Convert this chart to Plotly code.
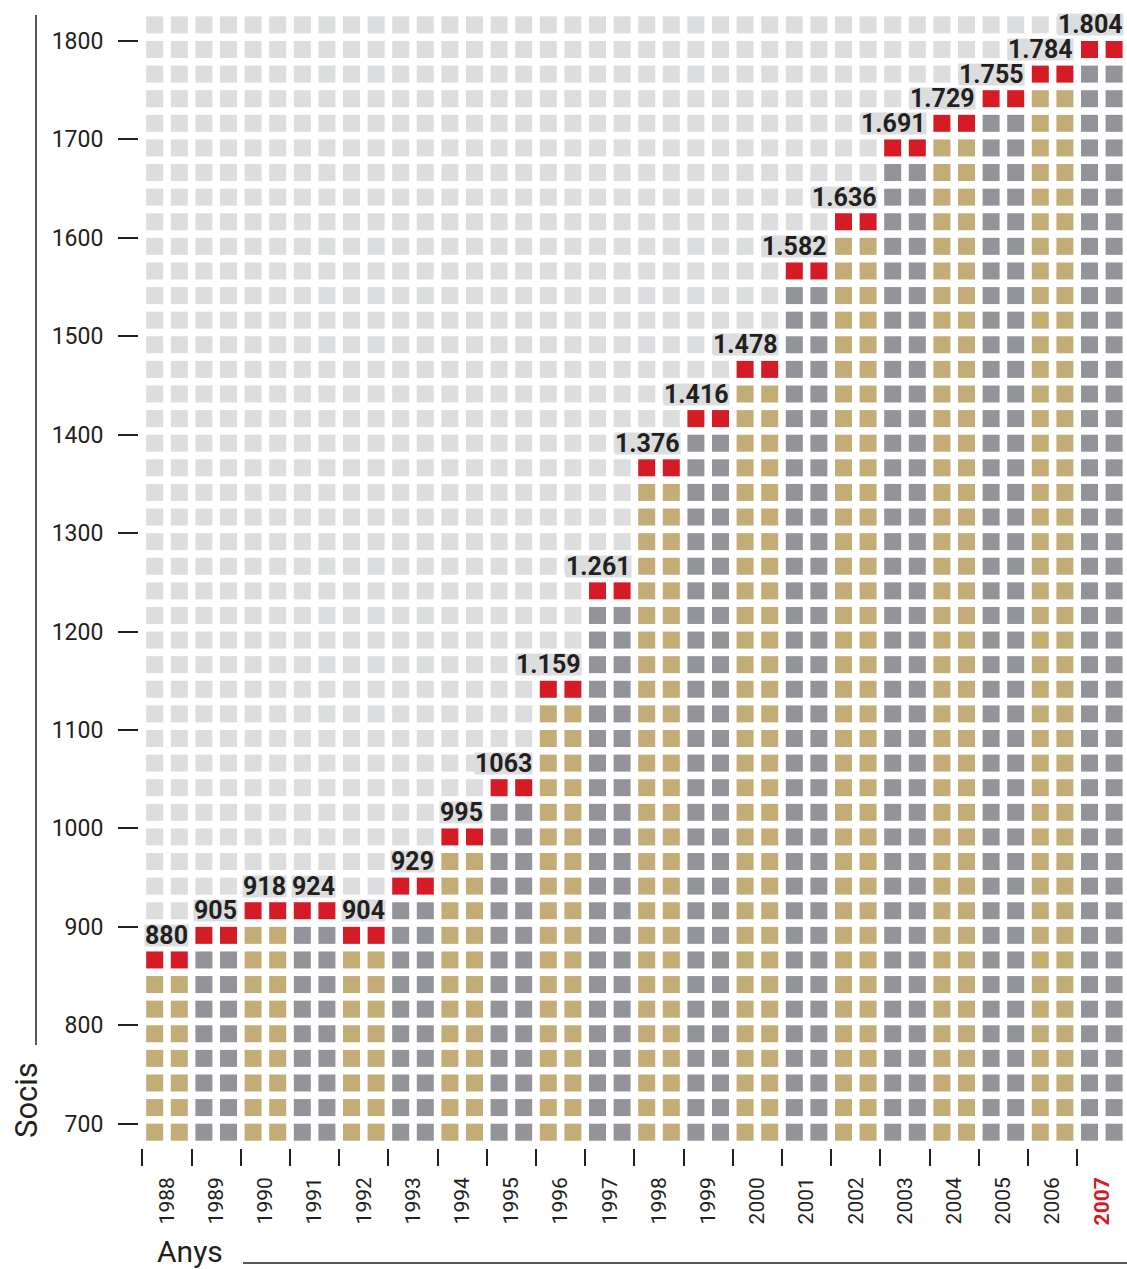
import plotly.graph_objects as go

# ---------------- data ----------------
years = list(range(1988, 2008))
socis = [880, 905, 918, 924, 904, 929, 995, 1063, 1159, 1261,
         1376, 1416, 1478, 1582, 1636, 1691, 1729, 1755, 1784, 1804]
value_labels = ["880", "905", "918", "924", "904", "929", "995", "1063", "1.159", "1.261",
                "1.376", "1.416", "1.478", "1.582", "1.636", "1.691", "1.729", "1.755", "1.784", "1.804"]
# number of squares drawn per year (each square ~25 socis)
squares = [8, 9, 10, 10, 9, 11, 13, 15, 19, 23, 28, 30, 32, 36, 38, 41, 42, 43, 44, 45]
y_ticks = [700, 800, 900, 1000, 1100, 1200, 1300, 1400, 1500, 1600, 1700, 1800]
year_labels = [str(y) for y in years[:-1]] + ['<span style="color:#d51b26"><b>2007</b></span>']

# ---------------- style / layout constants ----------------
W, H = 1127, 1269
L, R, T, B = 139, 0, 10, 121
PW, PH = W - L - R, H - T - B
YEAR_PX = 49.2            # px per year
X0_PX = 167               # px centre of first year
PPU = 1082.7 / 1100       # px per socis unit
Y700_PX = 1123.7
STEP = 25                 # socis per square row
N_ROWS = 46
SQ = 17
COL_OFF = 0.25
HALF_SQ_Y = SQ / 2 / PPU
HALF_SQ_X = SQ / 2 / YEAR_PX

xmin = years[0] + (L - X0_PX) / YEAR_PX
xmax = years[0] + (W - R - X0_PX) / YEAR_PX
ymax = 700 + (Y700_PX - T) / PPU
ymin = 700 - (H - B - Y700_PX) / PPU

TAN, GRAY, RED, LIGHT = "#c4ac77", "#939499", "#d51b26", "#dcdddf"
INK = "#231f20"
FONT = "Roboto, Liberation Sans, sans-serif"


def row_y(k):
    return 700 + STEP * k - HALF_SQ_Y


groups = {TAN: ([], []), GRAY: ([], []), RED: ([], []), LIGHT: ([], [])}
for i, (yr, n) in enumerate(zip(years, squares)):
    for off in (-COL_OFF, COL_OFF):
        for k in range(N_ROWS):
            if k < n - 1:
                c = TAN if i % 2 == 0 else GRAY
            elif k == n - 1:
                c = RED
            else:
                c = LIGHT
            groups[c][0].append(yr + off)
            groups[c][1].append(row_y(k))

fig = go.Figure()
for c in (LIGHT, TAN, GRAY, RED):
    xs, ys = groups[c]
    fig.add_trace(go.Scatter(x=xs, y=ys, mode="markers",
                             marker=dict(symbol="square", size=SQ, color=c, line=dict(width=0)),
                             hoverinfo="skip", showlegend=False))

annotations = []
for yr, n, lab in zip(years, squares, value_labels):
    annotations.append(dict(x=yr + COL_OFF + HALF_SQ_X + 0.02, y=row_y(n), xref="x", yref="y",
                            text="<b>" + lab + "</b>", showarrow=False, xanchor="right", yanchor="middle",
                            font=dict(family=FONT, size=25, color=INK),
                            bgcolor=LIGHT, borderpad=0, height=21, valign="middle"))


def px_x(p):
    return (p - L) / PW


def px_y(p):
    return (H - B - p) / PH


annotations.append(dict(x=px_x(26), y=px_y(1100), xref="paper", yref="paper", text="Socis",
                        textangle=-90, showarrow=False, xanchor="center", yanchor="middle",
                        font=dict(family=FONT, size=31, color=INK)))
annotations.append(dict(x=px_x(190), y=px_y(1251), xref="paper", yref="paper", text="Anys",
                        showarrow=False, xanchor="center", yanchor="middle",
                        font=dict(family=FONT, size=30, color=INK)))

shapes = [
    dict(type="line", xref="paper", yref="paper", x0=px_x(36), x1=px_x(36), y0=px_y(15), y1=px_y(1045),
         line=dict(color=INK, width=1.5)),
    dict(type="line", xref="paper", yref="paper", x0=px_x(243), x1=px_x(1127), y0=px_y(1263), y1=px_y(1263),
         line=dict(color=INK, width=1.5)),
]

fig.update_layout(
    width=W, height=H, margin=dict(l=L, r=R, t=T, b=B, autoexpand=False),
    paper_bgcolor="white", plot_bgcolor="white", showlegend=False,
    annotations=annotations, shapes=shapes,
    xaxis=dict(range=[xmin, xmax], tickmode="array", tickvals=years, ticktext=year_labels,
               ticks="", tickangle=-90, ticklabelstandoff=24, automargin=False,
               tickfont=dict(family=FONT, size=21, color=INK),
               showgrid=False, zeroline=False, showline=False, fixedrange=True,
               minor=dict(tickmode="array", tickvals=[y - 0.5 for y in years], ticks="outside",
                          ticklen=17, tickwidth=2, tickcolor=INK, showgrid=False)),
    yaxis=dict(range=[ymin, ymax], tickmode="array", tickvals=y_ticks, automargin=False,
               ticks="outside", ticklen=20, tickwidth=2, tickcolor=INK, ticklabelstandoff=10,
               tickfont=dict(family=FONT, size=23, color=INK),
               showgrid=False, zeroline=False, showline=False, fixedrange=True),
)

fig.write_html("out.html", config={"displayModeBar": False},
               post_script="document.body.style.margin='0px';")
